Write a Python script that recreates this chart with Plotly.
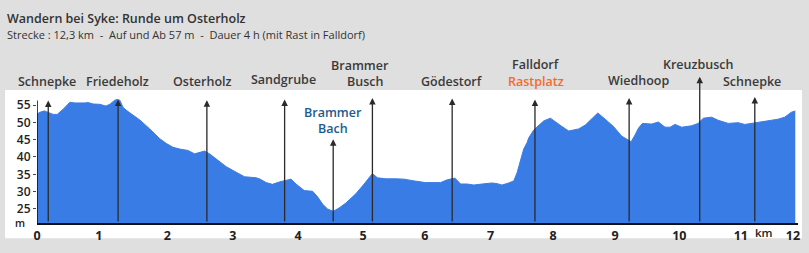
import plotly.graph_objects as go

# ---------------- data ----------------
dist_km = [0.0, 0.047, 0.115, 0.205, 0.257, 0.32, 0.415, 0.521, 0.60, 0.758, 0.81, 0.889, 0.995, 1.09,
           1.153, 1.232, 1.268, 1.311, 1.363, 1.442, 1.521, 1.627, 1.785, 1.943, 2.048, 2.153, 2.258,
           2.389, 2.495, 2.574, 2.653, 2.732, 2.838, 2.996, 3.154, 3.285, 3.47, 3.522, 3.628, 3.727,
           3.838, 3.917, 4.022, 4.101, 4.232, 4.364, 4.443, 4.521, 4.6, 4.69, 4.785, 4.891, 5.049,
           5.18, 5.311, 5.39, 5.523, 5.681, 5.812, 5.97, 6.154, 6.391, 6.496, 6.617, 6.707, 6.811,
           6.917, 7.048, 7.206, 7.285, 7.364, 7.47, 7.549, 7.601, 7.655, 7.707, 7.759, 7.786, 7.865,
           7.944, 8.023, 8.129, 8.208, 8.312, 8.419, 8.576, 8.681, 8.786, 8.88, 8.997, 9.128, 9.259,
           9.338, 9.408, 9.471, 9.523, 9.586, 9.733, 9.839, 9.945, 10.024, 10.103, 10.207, 10.365,
           10.47, 10.55, 10.681, 10.786, 10.944, 11.102, 11.208, 11.366, 11.524, 11.734, 11.84,
           11.944, 12.007]
elev_m = [52.4, 52.9, 53.3, 52.6, 52.3, 52.3, 53.8, 55.8, 55.6, 55.6, 55.7, 55.3, 55.2, 54.7,
          55.2, 56.4, 56.6, 56.4, 54.3, 53.1, 52.0, 50.7, 48.1, 45.3, 43.9, 42.8, 42.3,
          41.9, 40.9, 41.3, 41.7, 40.9, 39.5, 37.2, 35.6, 34.3, 34.0, 33.7, 32.6, 32.1,
          32.8, 33.1, 33.6, 32.2, 30.3, 30.1, 28.5, 26.4, 25.0, 24.3, 25.3, 26.7, 29.4,
          32.2, 35.2, 34.0, 33.7, 33.7, 33.6, 33.1, 32.6, 32.6, 33.4, 33.9, 32.2, 32.2,
          31.9, 32.2, 32.5, 32.3, 31.9, 32.5, 33.1, 35.4, 38.6, 42.3, 44.1, 45.5, 47.8,
          49.2, 50.4, 51.2, 50.1, 48.8, 47.5, 48.1, 49.2, 51.0, 52.7, 50.9, 48.8, 46.0,
          45.1, 44.4, 46.4, 48.3, 49.7, 49.5, 50.1, 48.6, 48.6, 49.4, 48.6, 49.0,
          49.7, 51.2, 51.5, 50.6, 49.7, 49.9, 49.4, 49.9, 50.3, 50.9, 51.5,
          52.9, 53.3]
assert len(dist_km) == len(elev_m)

# waypoints: position (km), arrow tip elevation (m)
wp_km = [0.178, 1.284, 2.69, 3.921, 4.69, 5.311, 6.574, 7.885, 9.376, 10.494, 11.366]
wp_tip = [56.3, 56.6, 56.4, 56.6, 45.1, 57.0, 56.9, 56.6, 57.0, 63.2, 57.3]

# waypoint labels: text, x (km), colour key
lbl_text = ["Schnepke", "Friedeholz", "Osterholz", "Sandgrube", "Brammer", "Busch", "Gödestorf",
            "Falldorf", "Rastplatz", "Wiedhoop", "Kreuzbusch", "Schnepke", "Brammer", "Bach"]
lbl_x = [0.158, 1.275, 2.62, 3.90, 5.109, 5.188, 6.565, 7.896, 7.896, 9.531, 10.47, 11.32, 4.694, 4.683]
lbl_kind = ["n", "n", "n", "n", "n", "n", "n", "n", "o", "n", "n", "n", "b", "b"]

y_ticks = [25, 30, 35, 40, 45, 50, 55]
x_tick_pos = [0.0, 0.979, 2.064, 3.1, 4.133, 5.164, 6.143, 7.181, 8.17, 9.155, 10.17, 11.145, 11.97]
x_tick_txt = ["0", "1", "2", "3", "4", "5", "6", "7", "8", "9", "10", "11", "12"]

title = "Wandern bei Syke: Runde um Osterholz"
subtitle = "Strecke : 12,3 km  -  Auf und Ab 57 m  -  Dauer 4 h (mit Rast in Falldorf)"

# ---------------- figure ----------------
FONT = "Open Sans"
W, H = 809, 253
L, R, T, B = 37, 9, 90, 24
YMIN, YMAX = 20.94, 59.34
XMIN, XMAX = 0.0, 12.05
pw, ph = W - L - R, H - T - B

# label vertical placement (pixels from top), a layout setting
lbl_ypx = [81, 81, 81, 79.5, 64, 81, 80.7, 63.3, 81, 80, 63.7, 81, 114, 130]


def px(xp):
    return (xp - L) / pw


def py(yp):
    return (H - B - yp) / ph


fig = go.Figure()
fig.add_trace(go.Scatter(x=dist_km, y=elev_m, mode="lines", fill="tozeroy",
                         fillcolor="#3a7ce5", line=dict(color="#3a7ce5", width=1),
                         hoverinfo="skip", showlegend=False))

colors = {"n": "#3a3a3a", "o": "#f26b2a", "b": "#1d5b8f"}
ann = []
for xk, tip in zip(wp_km, wp_tip):
    ann.append(dict(x=xk, y=tip, ax=xk, ay=YMIN, xref="x", yref="y", axref="x", ayref="y",
                    text="", showarrow=True, arrowhead=2, arrowsize=1.0, arrowwidth=1.3,
                    arrowcolor="#2a2a2a", standoff=0, startstandoff=0))
for t, xk, yp, k in zip(lbl_text, lbl_x, lbl_ypx, lbl_kind):
    ann.append(dict(x=xk, y=py(yp), xref="x", yref="paper", text=t, showarrow=False,
                    xanchor="center", yanchor="middle",
                    font=dict(family=FONT, size=12.5, color=colors[k], weight=600)))

ann.append(dict(x=px(5), y=py(15.7), xref="paper", yref="paper", text=title, showarrow=False,
                xanchor="left", yanchor="middle",
                font=dict(family=FONT, size=12.5, color="#333333", weight=600)))
ann.append(dict(x=px(5), y=py(32.3), xref="paper", yref="paper",
                text=subtitle.replace("  ", "\u00a0\u00a0"), showarrow=False,
                xanchor="left", yanchor="middle",
                font=dict(family=FONT, size=11, color="#333333", weight=500)))
ann.append(dict(x=px(20), y=py(229), xref="paper", yref="paper", text="m", showarrow=False,
                xanchor="center", yanchor="middle",
                font=dict(family=FONT, size=10.5, color="#222222", weight=600)))
ann.append(dict(x=px(766), y=py(239.3), xref="paper", yref="paper", text="km", showarrow=False,
                xanchor="center", yanchor="middle",
                font=dict(family=FONT, size=11.5, color="#222222", weight=600)))

shapes = [
    dict(type="rect", xref="paper", yref="paper", x0=px(5), x1=px(804), y0=py(245), y1=py(90),
         fillcolor="white", line=dict(width=0), layer="below"),
    dict(type="line", xref="x", yref="y", x0=0, x1=0, y0=YMIN, y1=56.3,
         line=dict(color="#111111", width=1.6)),
]

fig.update_layout(
    width=W, height=H,
    margin=dict(l=L, r=R, t=T, b=B, pad=0),
    paper_bgcolor="#dfdfdf", plot_bgcolor="white",
    annotations=ann, shapes=shapes, showlegend=False,
    xaxis=dict(range=[XMIN, XMAX], showgrid=False, zeroline=False, showline=True,
               linecolor="#111111", linewidth=2, tickmode="array", tickvals=x_tick_pos,
               ticktext=x_tick_txt, ticks="", fixedrange=True,
               tickfont=dict(family=FONT, size=12.5, color="#222222", weight=700)),
    yaxis=dict(range=[YMIN, YMAX], showgrid=False, zeroline=False, showline=False,
               tickmode="array", tickvals=y_ticks, ticktext=[str(v) for v in y_ticks],
               ticks="outside", ticklen=3, tickwidth=1, tickcolor="#444444", fixedrange=True,
               tickfont=dict(family=FONT, size=12, color="#222222", weight=600)),
)

fig.write_html("out.html", config={"displayModeBar": False})
